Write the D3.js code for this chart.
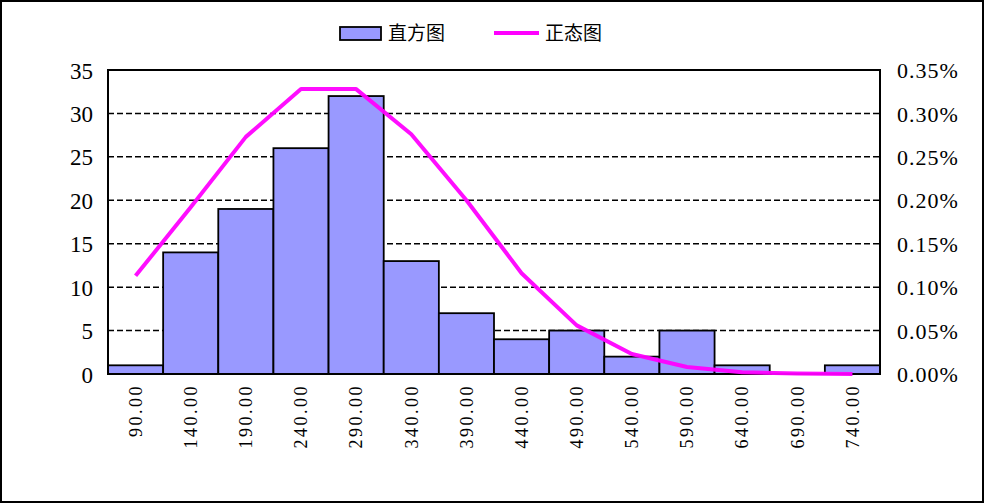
<!DOCTYPE html>
<html>
<head>
<meta charset="utf-8">
<script src="https://cdn.jsdelivr.net/npm/d3@7"></script>
<style>
  body { margin: 0; background: #fff; }
  svg { display: block; }
  .tick text { font-family: "Liberation Serif", "DejaVu Serif", serif; fill: #000; }
</style>
</head>
<body>
<div id="main"></div>
<script>
// bins (left edge labels), counts, normal density
const bins = [90, 140, 190, 240, 290, 340, 390, 440, 490, 540, 590, 640, 690, 740];
const counts = [1, 14, 19, 26, 32, 13, 7, 4, 5, 2, 5, 1, 0, 1];
const normal = [0.00113, 0.00192, 0.00273, 0.00328, 0.00328, 0.00276, 0.00200, 0.00116,
                0.00056, 0.00023, 0.00008, 0.00002, 0.000005, 0.000001];
const leftTicks = [0, 5, 10, 15, 20, 25, 30, 35];
const rightTicks = [0, 0.0005, 0.001, 0.0015, 0.002, 0.0025, 0.003, 0.0035];

const W = 984, H = 503;
const m = {left: 108, right: 104, top: 70, bottom: 129};

const svg = d3.select('#main').append('svg').attr('width', W).attr('height', H);

// outer frame
svg.append('rect').attr('x', 1).attr('y', 1).attr('width', W - 2).attr('height', H - 2)
  .style('fill', '#fff').style('stroke', '#000').style('stroke-width', 2);

const x = d3.scaleBand().domain(bins).range([m.left, W - m.right]).padding(0);
const y = d3.scaleLinear().domain([0, 35]).range([H - m.bottom, m.top]);
const y2 = d3.scaleLinear().domain([0, 0.0035]).range([H - m.bottom, m.top]);

// grid
svg.append('g').selectAll('line').data(leftTicks.filter(d => d > 0 && d < 35)).join('line')
  .attr('x1', m.left).attr('x2', W - m.right)
  .attr('y1', d => y(d)).attr('y2', d => y(d))
  .style('stroke', '#000').style('stroke-width', 1.5).style('stroke-dasharray', '6,3');

// bars
svg.append('g').selectAll('rect').data(counts).join('rect')
  .attr('x', (d, i) => x(bins[i]))
  .attr('y', d => y(d))
  .attr('width', x.bandwidth())
  .attr('height', d => y(0) - y(d))
  .style('fill', '#9999ff').style('stroke', '#000').style('stroke-width', 1.8);

// plot border
svg.append('rect').attr('x', m.left).attr('y', m.top)
  .attr('width', W - m.left - m.right).attr('height', H - m.top - m.bottom)
  .style('fill', 'none').style('stroke', '#000').style('stroke-width', 2);

// normal line
const line = d3.line().x((d, i) => x(bins[i]) + x.bandwidth() / 2).y(d => y2(d));
svg.append('path').datum(normal).attr('d', line)
  .style('fill', 'none').style('stroke', '#ff00ff').style('stroke-width', 4)
  .style('stroke-linejoin', 'round').style('opacity', 0.95);

// axes
const yAxis = svg.append('g').attr('transform', `translate(${m.left},0)`)
  .call(d3.axisLeft(y).tickValues(leftTicks).tickSize(0).tickPadding(15));
yAxis.select('.domain').remove();
yAxis.selectAll('text').style('font-size', '23px').attr('dy', '0.35em');

const yAxis2 = svg.append('g').attr('transform', `translate(${W - m.right},0)`)
  .call(d3.axisRight(y2).tickValues(rightTicks).tickSize(0).tickPadding(17).tickFormat(d => d3.format('.2%')(d)));
yAxis2.select('.domain').remove();
yAxis2.selectAll('text').style('font-size', '22px').style('letter-spacing', '1px').attr('dy', '0.35em');

const xAxis = svg.append('g').attr('transform', `translate(0,${H - m.bottom})`)
  .call(d3.axisBottom(x).tickSize(0).tickFormat(d => d3.format('.2f')(d)));
xAxis.select('.domain').remove();
xAxis.selectAll('text')
  .style('font-size', '18px')
  .style('letter-spacing', '2.5px')
  .attr('transform', 'rotate(-90)')
  .attr('x', -10).attr('y', 0).attr('dy', '0.35em')
  .style('text-anchor', 'end');

// legend
const lg = svg.append('g').style('font-family', '"Noto Sans CJK SC", sans-serif').style('font-size', '19px');
lg.append('rect').attr('x', 340).attr('y', 27).attr('width', 41).attr('height', 13)
  .style('fill', '#9999ff').style('stroke', '#000').style('stroke-width', 1.8);
lg.append('text').attr('x', 388).attr('y', 33).attr('dy', '0.35em').text('直方图');
lg.append('line').attr('x1', 494).attr('x2', 539).attr('y1', 33).attr('y2', 33)
  .style('stroke', '#ff00ff').style('stroke-width', 4);
lg.append('text').attr('x', 545).attr('y', 33).attr('dy', '0.35em').text('正态图');
</script>
</body>
</html>
